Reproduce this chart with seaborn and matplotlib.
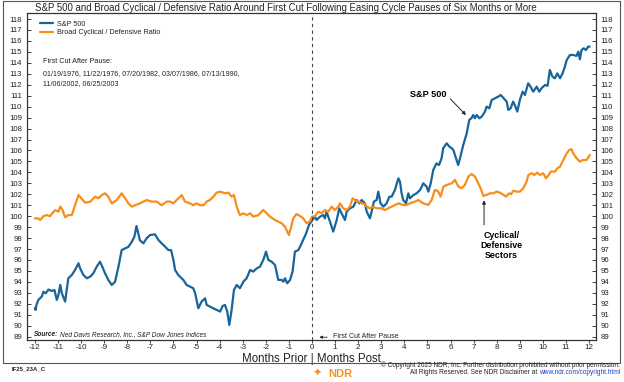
import numpy as np
import pandas as pd
import matplotlib
matplotlib.use("Agg")
import matplotlib.pyplot as plt
import seaborn as sns
from matplotlib.patches import Rectangle

# ---------------- data ----------------
spx_month = [-12.0, -11.97, -11.93, -11.85, -11.7, -11.63, -11.53, -11.41, -11.27, -11.15,
             -11.05, -10.98, -10.9, -10.83, -10.69, -10.55, -10.4, -10.26, -10.11, -10.04,
             -9.9, -9.75, -9.6, -9.47, -9.32, -9.18, -9.08, -8.96, -8.82, -8.67,
             -8.53, -8.38, -8.24, -8.09, -7.95, -7.8, -7.69, -7.6, -7.45, -7.3,
             -7.16, -7.01, -6.8, -6.65, -6.51, -6.36, -6.22, -6.1, -6.0, -5.93,
             -5.79, -5.57, -5.43, -5.28, -5.14, -5.06, -4.92, -4.78, -4.63, -4.56,
             -4.42, -4.27, -4.13, -3.98, -3.87, -3.77, -3.67, -3.58, -3.48, -3.38,
             -3.26, -3.12, -2.97, -2.83, -2.68, -2.54, -2.39, -2.25, -2.11, -1.99,
             -1.89, -1.75, -1.6, -1.46, -1.31, -1.24, -1.17, -1.07, -0.95, -0.84,
             -0.74, -0.59, -0.52, -0.39, -0.26, -0.13, 0.0, 0.13, 0.2, 0.35,
             0.49, 0.56, 0.63, 0.78, 0.92, 1.07, 1.18, 1.28, 1.43, 1.5,
             1.64, 1.79, 1.93, 2.05, 2.15, 2.29, 2.37, 2.51, 2.58, 2.68,
             2.8, 2.87, 2.97, 3.09, 3.23, 3.35, 3.45, 3.59, 3.74, 3.81,
             3.88, 3.95, 4.07, 4.17, 4.24, 4.39, 4.53, 4.68, 4.82, 4.96,
             5.04, 5.14, 5.25, 5.39, 5.5, 5.61, 5.68, 5.83, 5.95, 6.05,
             6.12, 6.19, 6.26, 6.33, 6.41, 6.55, 6.7, 6.81, 6.9, 6.98,
             7.05, 7.13, 7.25, 7.35, 7.49, 7.56, 7.68, 7.78, 7.92, 8.07,
             8.17, 8.3, 8.43, 8.5, 8.6, 8.71, 8.78, 8.89, 9.0, 9.12,
             9.22, 9.36, 9.46, 9.58, 9.73, 9.84, 9.94, 10.09, 10.2, 10.3,
             10.41, 10.52, 10.62, 10.74, 10.85, 10.95, 11.03, 11.17, 11.31, 11.45,
             11.53, 11.6, 11.67, 11.77, 11.86, 11.96, 12.02]
spx_value = [91.6, 91.44, 91.9, 92.35, 92.66, 93.1, 92.96, 93.3, 93.17, 93.26,
             92.35, 92.8, 93.72, 92.96, 92.2, 94.33, 94.63, 95.09, 95.7, 95.24,
             94.63, 94.33, 94.48, 94.78, 95.39, 95.85, 95.39, 94.78, 94.18, 93.72,
             94.0, 95.39, 96.91, 97.06, 97.2, 97.67, 98.13, 99.1, 97.8, 97.52,
             97.98, 98.28, 98.34, 97.83, 97.52, 97.22, 96.91, 96.9, 96.0, 95.1,
             94.63, 94.18, 93.72, 93.57, 93.42, 92.96, 91.59, 92.2, 92.5, 91.9,
             91.74, 91.59, 91.44, 91.29, 91.8, 91.89, 91.29, 90.07, 91.44, 93.26,
             93.72, 93.42, 94.02, 94.33, 95.09, 94.94, 95.24, 95.39, 96.0, 96.76,
             96.0, 95.85, 95.54, 94.18, 94.18, 94.02, 94.33, 93.87, 94.18, 94.94,
             96.76, 96.91, 97.2, 97.8, 98.4, 99.2, 99.6, 99.96, 99.65, 99.96,
             100.1, 99.8, 100.4, 99.5, 98.59, 99.65, 100.72, 100.26, 99.65, 100.41,
             100.72, 100.87, 101.48, 101.17, 101.48, 101.17, 100.41, 99.8, 100.41, 101.33,
             101.48, 102.24, 101.17, 100.87, 101.17, 101.78, 101.78, 102.39, 103.45, 103.15,
             102.09, 101.48, 101.17, 102.09, 101.63, 101.93, 102.09, 102.39, 103.0, 102.7,
             102.24, 103.0, 104.21, 104.82, 104.67, 105.28, 106.2, 106.65, 106.35, 106.2,
             106.05, 105.59, 105.13, 104.67, 105.29, 106.5, 107.57, 108.79, 108.94, 109.24,
             108.94, 109.24, 108.94, 109.09, 109.55, 110.0, 109.85, 110.61, 110.76, 110.92,
             111.07, 110.76, 110.46, 109.7, 109.85, 110.46, 110.15, 109.55, 110.61, 111.37,
             111.07, 112.13, 111.83, 111.37, 111.83, 111.37, 111.68, 111.98, 111.9, 113.35,
             112.74, 112.59, 113.04, 112.59, 113.04, 113.65, 114.26, 114.72, 114.72, 114.63,
             115.02, 114.32, 115.17, 115.33, 115.17, 115.48, 115.48]

ratio_month = [-12.0, -11.85, -11.77, -11.63, -11.48, -11.34, -11.27, -11.12, -10.98, -10.9,
               -10.8, -10.69, -10.55, -10.4, -10.26, -10.11, -9.99, -9.82, -9.6, -9.39,
               -9.25, -9.1, -8.96, -8.82, -8.67, -8.45, -8.24, -8.09, -7.95, -7.8,
               -7.66, -7.45, -7.16, -6.94, -6.73, -6.51, -6.29, -6.15, -6.0, -5.86,
               -5.71, -5.64, -5.5, -5.28, -5.14, -5.0, -4.85, -4.7, -4.56, -4.42,
               -4.27, -4.13, -3.98, -3.77, -3.62, -3.48, -3.38, -3.26, -3.12, -2.97,
               -2.83, -2.68, -2.54, -2.32, -2.25, -2.11, -1.96, -1.82, -1.6, -1.46,
               -1.31, -1.17, -1.0, -0.9, -0.81, -0.67, -0.52, -0.38, -0.23, -0.1,
               0.0, 0.13, 0.27, 0.42, 0.56, 0.7, 0.85, 0.99, 1.14, 1.21,
               1.35, 1.5, 1.64, 1.76, 1.86, 2.0, 2.15, 2.29, 2.37, 2.51,
               2.65, 2.8, 3.0, 3.16, 3.3, 3.45, 3.59, 3.74, 3.95, 4.1,
               4.24, 4.46, 4.6, 4.82, 5.04, 5.18, 5.32, 5.45, 5.57, 5.69,
               5.83, 6.05, 6.19, 6.34, 6.48, 6.62, 6.77, 6.91, 7.06, 7.2,
               7.3, 7.42, 7.56, 7.71, 7.85, 8.0, 8.14, 8.29, 8.4, 8.54,
               8.62, 8.72, 8.86, 9.0, 9.15, 9.29, 9.37, 9.51, 9.63, 9.75,
               9.87, 10.01, 10.13, 10.23, 10.34, 10.52, 10.62, 10.74, 10.88, 11.03,
               11.14, 11.24, 11.31, 11.46, 11.6, 11.74, 11.89, 12.03]
ratio_value = [99.8, 99.8, 99.65, 100.0, 100.1, 100.0, 100.2, 100.56, 100.41, 100.87,
               100.56, 99.9, 100.1, 100.1, 101.0, 101.93, 101.63, 101.23, 101.33, 101.78,
               101.63, 101.93, 102.09, 101.78, 101.17, 101.48, 102.09, 101.63, 101.17, 100.87,
               101.0, 101.17, 101.48, 101.33, 101.33, 101.0, 101.33, 101.33, 101.17, 101.48,
               101.78, 101.93, 101.33, 101.17, 101.0, 101.17, 101.0, 101.0, 101.33, 101.48,
               101.78, 102.15, 102.24, 102.09, 102.15, 101.78, 101.93, 100.87, 100.1, 100.26,
               100.1, 100.26, 99.96, 100.1, 100.26, 100.56, 100.26, 99.96, 99.65, 99.5,
               99.35, 99.04, 98.28, 99.04, 99.8, 100.2, 100.02, 99.8, 99.35, 99.5,
               99.96, 100.0, 100.41, 100.26, 100.56, 100.4, 100.87, 100.56, 100.87, 101.17,
               100.72, 100.56, 100.87, 101.63, 101.48, 101.33, 101.17, 101.1, 100.87, 100.72,
               100.87, 100.72, 100.72, 100.56, 100.72, 100.87, 101.02, 101.17, 101.02, 101.02,
               101.17, 101.33, 101.48, 101.17, 101.03, 101.48, 102.39, 102.3, 101.79, 102.7,
               102.85, 103.0, 103.31, 102.7, 102.55, 102.85, 103.61, 103.85, 103.61, 103.0,
               102.55, 101.85, 101.94, 102.09, 102.09, 102.24, 102.15, 101.94, 101.79, 102.09,
               102.0, 102.33, 102.24, 102.24, 102.55, 103.15, 103.76, 103.92, 103.76, 103.98,
               103.76, 103.92, 103.46, 103.7, 104.07, 104.07, 104.37, 104.52, 105.13, 105.74,
               106.04, 106.11, 105.74, 105.28, 104.98, 105.13, 105.13, 105.59]

x_ticks = list(range(-12, 13))
y_ticks = list(range(89, 119))
series_names = ["S&P 500", "Broad Cyclical / Defensive Ratio"]
cut_dates = ["01/19/1976", "11/22/1976", "07/20/1982", "03/07/1986", "07/13/1990",
             "11/06/2002", "06/25/2003"]

BLUE = "#17659a"
ORANGE = "#f98d1c"
DARK = "#222222"

# ---------------- style ----------------
sns.set_style("white")
plt.rcParams['font.family'] = ['Liberation Sans', 'DejaVu Sans']

fig = plt.figure(figsize=(6.24, 3.82), dpi=100)
W, H = 624.0, 382.0
ax_l, ax_r, ax_t, ax_b = 27.0, 595.6, 13.0, 339.5
ax = fig.add_axes([ax_l / W, 1 - ax_b / H, (ax_r - ax_l) / W, (ax_b - ax_t) / H])

spx_df = pd.DataFrame({"month": spx_month, "value": spx_value})
ratio_df = pd.DataFrame({"month": ratio_month, "value": ratio_value})
sns.lineplot(data=spx_df, x="month", y="value", ax=ax, color=BLUE, lw=1.6,
             label=series_names[0], estimator=None, sort=False)
sns.lineplot(data=ratio_df, x="month", y="value", ax=ax, color=ORANGE, lw=1.6,
             label=series_names[1], estimator=None, sort=False)

ax.set_xlim(-12.34, 12.28)
ax.set_ylim(88.74, 118.55)
ax.set_xticks(x_ticks)
ax.set_xticklabels([str(t) for t in x_ticks])
ax.set_yticks(y_ticks)
ax.set_yticklabels([str(t) for t in y_ticks])
ax.set_ylabel("")
ax.set_xlabel("Months Prior | Months Post", fontsize=8.3, color=DARK, labelpad=1)

for s in ax.spines.values():
    s.set_visible(True)
    s.set_color("#333333")
    s.set_linewidth(0.9)

ax.tick_params(axis="y", which="both", direction="in", length=3, width=0.6,
               left=True, right=True, labelleft=True, labelright=True,
               labelsize=5.6, pad=3.5, colors=DARK)
ax.tick_params(axis="x", direction="out", length=2, width=0.6, bottom=True,
               labelsize=5.8, pad=1.5, colors=DARK)

ax.axvline(0, color="#444444", lw=0.8, ls=(0, (3, 3)))

leg = ax.legend(loc="upper left", bbox_to_anchor=((40 - ax_l) / (ax_r - ax_l), 0.977),
                frameon=False, fontsize=5.2, handlelength=1.8, handletextpad=0.6,
                labelspacing=0.25, borderpad=0, borderaxespad=0)
for t in leg.get_texts():
    t.set_color(DARK)

# text block
ax.text(-11.63, 114.1, "First Cut After Pause:", fontsize=5.2, color=DARK,
        ha="left", va="center")
ax.text(-11.63, 113.3, ", ".join(cut_dates[:5]) + ",\n" + ", ".join(cut_dates[5:]),
        fontsize=5.1, color=DARK, ha="left", va="top", linespacing=1.45)

# source
ax.text(-12.05, 89.2, "Source:", fontsize=4.7, style="italic", weight="bold",
        color=DARK, ha="left", va="center")
ax.text(-10.9, 89.2, "Ned Davis Research, Inc., S&P Dow Jones Indices", fontsize=4.7,
        style="italic", color=DARK, ha="left", va="center")

# first cut annotation
ax.annotate("", xy=(0.2, 88.95), xytext=(0.78, 88.95),
            arrowprops=dict(arrowstyle="-|>", color=DARK, lw=0.6, mutation_scale=4))
ax.text(0.9, 89.05, "First Cut After Pause", fontsize=5.0, color=DARK,
        ha="left", va="center")

# series annotations
ax.annotate("", xy=(6.75, 109.05), xytext=(5.9, 110.9),
            arrowprops=dict(arrowstyle="-|>", color=DARK, lw=0.7, mutation_scale=5))
ax.text(5.03, 111.15, "S&P 500", fontsize=6.6, weight="bold", color="black",
        ha="center", va="center")
ax.annotate("", xy=(7.45, 101.7), xytext=(7.45, 98.95),
            arrowprops=dict(arrowstyle="-|>", color=DARK, lw=0.7, mutation_scale=5))
ax.text(8.2, 97.3, "Cyclical/\nDefensive\nSectors", fontsize=6.4, weight="bold",
        color="black", ha="center", va="center", linespacing=1.15)

# figure texts
fig.text(35 / W, 1 - 8.3 / H,
         "S&P 500 and Broad Cyclical / Defensive Ratio Around First Cut Following Easing Cycle Pauses of Six Months or More",
         fontsize=6.9, ha="left", va="center", color=DARK)
fig.text(12 / W, 1 - 368.5 / H, "IF25_23A_C", fontsize=4.3, weight="bold",
         ha="left", va="center", color=DARK)
fig.text(313 / W, 1 - 373 / H, "\u2726", fontsize=8, color="#f7901e",
         ha="left", va="center", family="DejaVu Sans")
fig.text(328 / W, 1 - 374 / H, "NDR", fontsize=8, weight="bold", color="#f7901e",
         ha="left", va="center")
fig.text(620 / W, 1 - 365.5 / H,
         "\u00a9 Copyright 2025 NDR, Inc. Further distribution prohibited without prior permission.",
         fontsize=4.7, ha="right", va="center", color=DARK)
url = fig.text(620 / W, 1 - 372.5 / H, "www.ndr.com/copyright.html",
               fontsize=4.7, ha="right", va="center", color="#1f3fbf")
renderer = fig.canvas.get_renderer()
url_w = url.get_window_extent(renderer=renderer).width
fig.text((620 - url_w - 1.5) / W, 1 - 372.5 / H,
         "All Rights Reserved. See NDR Disclaimer at",
         fontsize=4.7, ha="right", va="center", color=DARK)

fig.patches.append(Rectangle((3 / W, 1 - 362.5 / H), (620 - 3) / W, (362.5 - 0.5) / H,
                             transform=fig.transFigure, fill=False,
                             ec="#555555", lw=0.8))

fig.savefig("out.png", dpi=100)
